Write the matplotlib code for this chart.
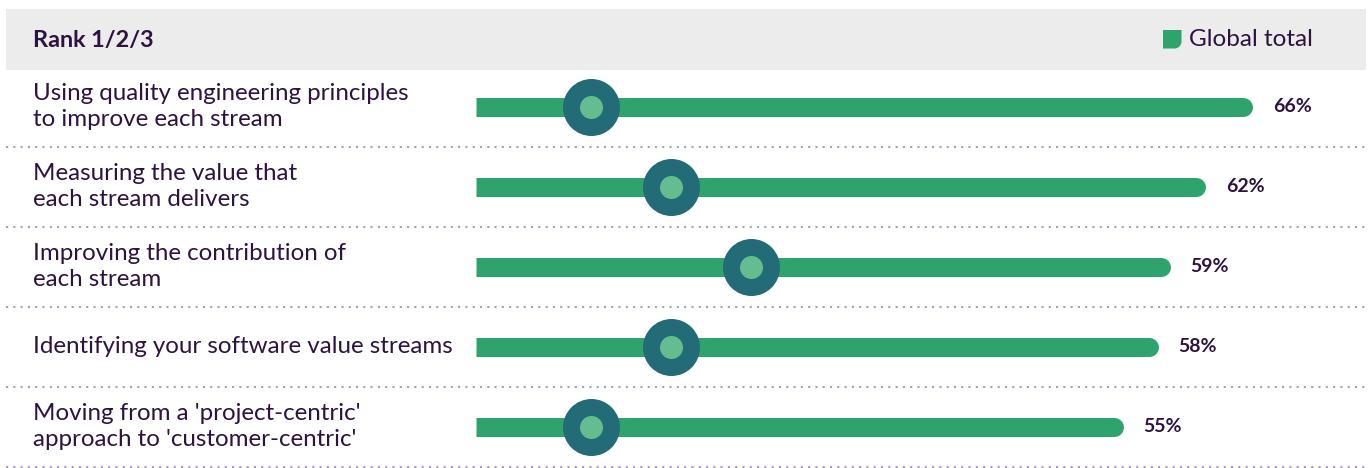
import numpy as np
import matplotlib
matplotlib.use("Agg")
import matplotlib.pyplot as plt
from matplotlib.path import Path
from matplotlib.patches import PathPatch

# --- data -------------------------------------------------------------
categories = [
    "Using quality engineering principles\nto improve each stream",
    "Measuring the value that\neach stream delivers",
    "Improving the contribution of\neach stream",
    "Identifying your software value streams",
    "Moving from a 'project-centric'\napproach to 'customer-centric'",
]
global_total = [66, 62, 59, 58, 55]
marker_pos = [9.8, 16.6, 23.4, 16.6, 9.8]
header_title = "Rank 1/2/3"
legend_label = "Global total"

# --- style ------------------------------------------------------------
W, H, DPI = 1370, 468, 100
TEXT = "#2e1240"
GREEN = "#2ea36b"
TEAL = "#226b77"
LIGHT = "#65bd8f"
BAND = "#ececec"
DOTS = "#a99dbf"
FONT = ["Lato", "DejaVu Sans"]

ROW_PX = 80.0          # vertical pitch of the rows
FIRST_ROW_PX = 106.5   # centre of first row, from top
ZERO_PX = 476.0        # where the bars start
PX_PER_PCT = 11.77
BAR_PX = 19.0
PT = 72 / DPI          # points per pixel


def ydat(py):
    return (py - FIRST_ROW_PX) / ROW_PX


fig = plt.figure(figsize=(W / DPI, H / DPI), dpi=DPI)
ax = fig.add_axes([0, 0, 1, 1])
ax.set_xlim(-ZERO_PX / PX_PER_PCT, (W - ZERO_PX) / PX_PER_PCT)
ax.set_ylim(ydat(H), ydat(0))
ax.axis("off")
ytrans = ax.get_yaxis_transform()

# header band
ax.axhspan(ydat(9), ydat(70), xmin=6 / W, xmax=1366 / W, color=BAND, lw=0, zorder=0)
ax.text(33 / W, ydat(40), header_title, transform=ytrans,
        ha="left", va="center", fontsize=16.8, fontweight="bold",
        color=TEXT, family=FONT)
ax.text(1189 / W, ydat(40), legend_label, transform=ytrans,
        ha="left", va="center", fontsize=17.5, color=TEXT, family=FONT)

# legend swatch: square with a rounded bottom-right corner (figure pixels)
x0, x1, y0, y1, r = 1163, 1181.5, H - 48.5, H - 30, 7
k = 0.55 * r
verts = [(x0, y1), (x1, y1), (x1, y0 + r), (x1, y0 + r - k), (x1 - r + k, y0),
         (x1 - r, y0), (x0, y0), (x0, y1)]
codes = [Path.MOVETO, Path.LINETO, Path.LINETO, Path.CURVE4, Path.CURVE4,
         Path.CURVE4, Path.LINETO, Path.CLOSEPOLY]
verts = [(vx / W, vy / H) for vx, vy in verts]
fig.patches.append(PathPatch(Path(verts, codes), transform=fig.transFigure,
                             facecolor=GREEN, edgecolor="none"))

y = np.arange(len(categories))
r_pct = (BAR_PX / 2) / PX_PER_PCT
x_left = -ZERO_PX / PX_PER_PCT + 6 / PX_PER_PCT
x_right = (1366 - ZERO_PX) / PX_PER_PCT

for yi, lab, v, m in zip(y, categories, global_total, marker_pos):
    # bar: square left end, rounded right end
    ax.plot([r_pct, v - r_pct], [yi, yi], color=GREEN, lw=BAR_PX * PT,
            solid_capstyle="round", zorder=2)
    ax.plot([0, v - r_pct], [yi, yi], color=GREEN, lw=BAR_PX * PT,
            solid_capstyle="butt", zorder=2)

    ax.text(33 / W, yi, lab, transform=ytrans,
            ha="left", va="center", fontsize=17.4, color=TEXT,
            family=FONT, linespacing=1.32)
    ax.text(v + 20 / PX_PER_PCT, yi, f"{v}%", ha="left", va="center",
            fontsize=14, fontweight="bold", color=TEXT, family=FONT)

    # dotted separator below each row
    ax.plot([x_left, x_right], [yi + 0.5, yi + 0.5], color=DOTS, lw=1.5,
            linestyle=(0, (1, 2.5)), zorder=1)

# marker circles
ax.scatter(marker_pos, y, s=(57 * PT) ** 2, color=TEAL, lw=0, zorder=3)
ax.scatter(marker_pos, y, s=(23 * PT) ** 2, color=LIGHT, lw=0, zorder=4)

fig.savefig("out.png", dpi=DPI)
